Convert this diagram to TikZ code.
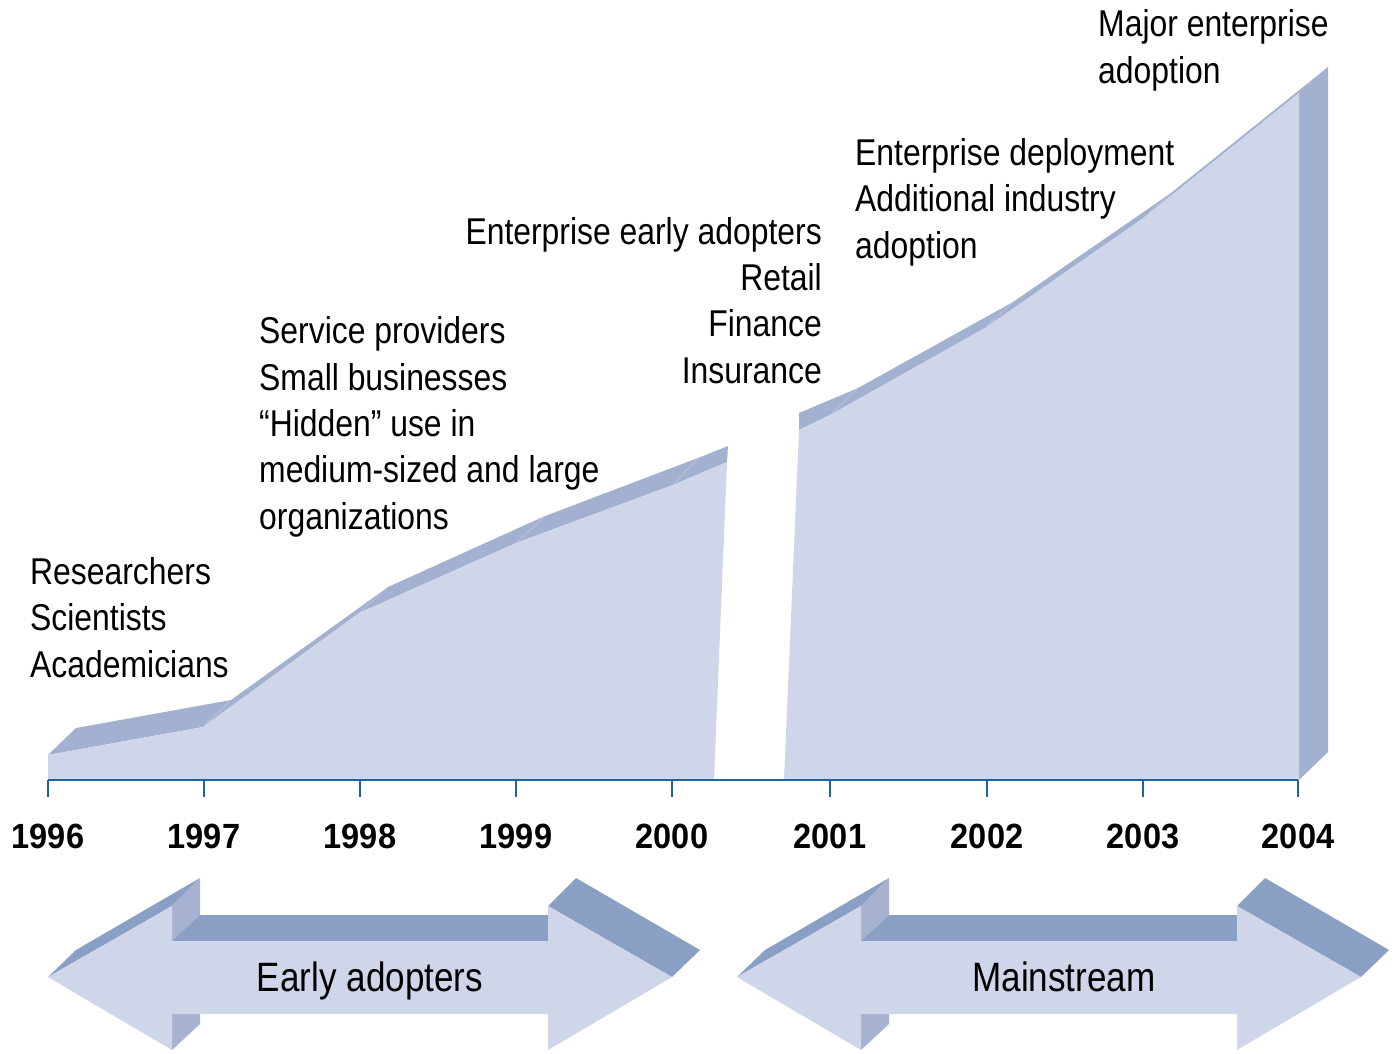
\documentclass[tikz,border=0pt]{standalone}
\usepackage{fontspec}
\setmainfont[FakeStretch=0.855]{Liberation Sans}
\newfontfamily\yearfont[FakeStretch=0.93]{Liberation Sans}
\definecolor{frontc}{HTML}{D0D6E9}
\definecolor{bandc}{HTML}{A3B1D0}
\definecolor{foldc}{HTML}{BAC4DE}
\definecolor{toparrow}{HTML}{8A9FC4}
\definecolor{sidearrow}{HTML}{A6B2D0}
\definecolor{axisc}{HTML}{1F64A0}
\begin{document}
\begin{tikzpicture}[x=1pt,y=-1pt,
  lbl/.style={font=\fontsize{37.3}{46.3}\selectfont, inner sep=0pt, align=left, anchor=base west},
  lblr/.style={lbl, align=right, anchor=base east},
  yearlbl/.style={font=\yearfont\bfseries\fontsize{35}{40}\selectfont, inner sep=0pt, anchor=base},
  arrowlbl/.style={font=\fontsize{41}{48}\selectfont, inner sep=0pt, anchor=base},
  fold/.style={draw=foldc, line width=0.7pt},
  axisline/.style={draw=axisc, line width=2pt}]
\useasboundingbox (0,0) rectangle (1398,1053);

% ---- left section of the area ----
\fill[bandc] (48,755) -- (203,727) -- (359,613) -- (516,543) -- (673,485) -- (727,462)
  -- (728,446) -- (698,458) -- (545,516) -- (388,587) -- (231,700) -- (76,728) -- cycle;
\fill[frontc] (48,780) -- (48,755) -- (203,727) -- (359,613) -- (516,543) -- (673,485)
  -- (727,462) -- (714,780) -- cycle;
\draw[fold] (203,727) -- (231,700);
\draw[fold] (359,613) -- (388,587);
\draw[fold] (516,543) -- (545,516);
\draw[fold] (673,485) -- (698,458);

% ---- right section of the area ----
\fill[bandc] (799,430) -- (830,415) -- (985,328) -- (1142,219) -- (1299,93) -- (1328,67)
  -- (1171,193) -- (1013,302) -- (858,388) -- (799,413) -- cycle;
\fill[bandc] (1299,93) -- (1328,67) -- (1328,752) -- (1299,780) -- cycle;
\fill[frontc] (784,780) -- (799,430) -- (830,415) -- (985,328) -- (1142,219) -- (1299,93)
  -- (1299,780) -- cycle;
\draw[fold] (830,415) -- (858,388);
\draw[fold] (985,328) -- (1013,302);
\draw[fold] (1142,219) -- (1171,193);

% ---- axis ----
\draw[axisline] (48,780) -- (1298,780);
\foreach \x/\yr in {48/1996,204/1997,360/1998,516/1999,672/2000,830/2001,987/2002,1143/2003,1298/2004}{
  \draw[axisline] (\x,780) -- (\x,797);
  \node[yearlbl] (y\yr) at (\x,848) {\yr};
}

% ---- labels (anchored at the baseline of the last line) ----
\node[lbl] (researchers) at (30,677) {Researchers\\Scientists\\Academicians};
\node[lbl] (service) at (259,529) {Service providers\\Small businesses\\“Hidden” use in\\medium-sized and large\\organizations};
\node[lblr] (earlyent) at (822,383) {Enterprise early adopters\\Retail\\Finance\\Insurance};
\node[lbl] (deploy) at (855,258) {Enterprise deployment\\Additional industry\\adoption};
\node[lbl] (major) at (1098,83) {Major enterprise\\adoption};

% ---- double arrows ----
\foreach \dx/\tx/\nm/\txt in {0/370/early/Early adopters, 689/375/main/Mainstream}{
  \begin{scope}[xshift=\dx pt]
    \fill[toparrow] (48,977) -- (172,906) -- (200,878) -- (76,950) -- cycle;
    \fill[sidearrow] (172,906) -- (200,878) -- (200,915) -- (172,941) -- cycle;
    \fill[toparrow] (172,941) -- (200,915) -- (548,915) -- (548,941) -- cycle;
    \fill[sidearrow] (172,1014) -- (200,1014) -- (200,1024) -- (172,1050) -- cycle;
    \fill[toparrow] (548,906) -- (576,878) -- (700,950) -- (672,977) -- cycle;
    \fill[frontc] (48,977) -- (172,906) -- (172,941) -- (548,941) -- (548,906) -- (672,977)
      -- (548,1050) -- (548,1014) -- (172,1014) -- (172,1050) -- cycle;
    \node[arrowlbl] (\nm) at (\tx,991) {\txt};
  \end{scope}
}
\end{tikzpicture}
\end{document}
